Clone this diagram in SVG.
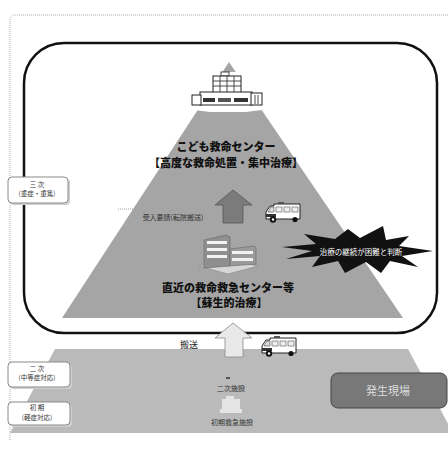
<svg xmlns="http://www.w3.org/2000/svg" xmlns:xlink="http://www.w3.org/1999/xlink" width="448" height="449" viewBox="0 0 448 449">
  <style>
    .jp { font-family: "Noto Sans CJK JP", "Noto Sans", sans-serif; }
    .title { font-size: 11px; font-weight: 900; fill: #111; text-anchor: middle; }
    .small { font-size: 7px; fill: #333; text-anchor: middle; }
    .lbl { font-size: 6.5px; fill: #333; text-anchor: middle; }
    .lblbox { fill: #fff; stroke: #8a8a8a; stroke-width: 1; }
    .lblshadow { fill: #cfcfcf; }
  </style>
  <defs>
    <!-- small ambulance, 36 x 21 -->
    <g id="ambulance">
      <path d="M1,16 L1,10 L5,4 L9,4 L9,2 L35,2 L35,17 L1,17 Z" fill="#fff" stroke="#222" stroke-width="1"/>
      <rect x="13" y="0" width="6" height="2" fill="#555"/>
      <path d="M3,10 L6,5 L9,5 L9,10 Z" fill="#ddd" stroke="#444" stroke-width="0.6"/>
      <rect x="11" y="5" width="6" height="5" fill="#eee" stroke="#555" stroke-width="0.6"/>
      <rect x="19" y="5" width="6" height="5" fill="#eee" stroke="#555" stroke-width="0.6"/>
      <rect x="27" y="5" width="6" height="5" fill="#eee" stroke="#555" stroke-width="0.6"/>
      <rect x="1" y="12" width="10" height="3" fill="#333"/>
      <circle cx="8" cy="17.5" r="3.2" fill="#111"/>
      <circle cx="8" cy="17.5" r="1.2" fill="#fff"/>
      <circle cx="30" cy="17.5" r="2.6" fill="#111"/>
    </g>
  </defs>

  <!-- outer dotted frame -->
  <path d="M10,440 L10,20 Q10,15 15,15 L448,15" fill="none" stroke="#aaa" stroke-width="1" stroke-dasharray="1 1"/>

  <!-- lower tier (secondary / primary) -->
  <g id="lower-tier">
    <polygon points="55,349 408,349 453,433 10,433" fill="#bababa"/>
  </g>

  <!-- tertiary pyramid -->
  <g id="pyramid">
    <polygon points="229,62 403,318 62,318" fill="#a5a5a5"/>
  </g>

  <!-- tertiary frame -->
  <g id="tertiary-frame">
    <rect x="24" y="43" width="413" height="290" rx="40" ry="40" fill="none" stroke="#111" stroke-width="2.5"/>
  </g>

  <!-- children's emergency center building -->
  <g id="kodomo-center">
    <polygon points="188,74 222,72 236,72 270,74 272,104 262,110 246,112 210,112 194,110 186,104" fill="#fff"/>
    <rect x="221" y="72" width="8" height="4" fill="#fff" stroke="#222" stroke-width="0.8"/>
    <rect x="213" y="76" width="28" height="17" fill="#fff" stroke="#222" stroke-width="1"/>
    <g stroke="#222" stroke-width="0.8">
      <line x1="213" y1="81" x2="241" y2="81"/>
      <line x1="213" y1="86" x2="241" y2="86"/>
      <line x1="220" y1="76" x2="220" y2="93"/>
      <line x1="227" y1="76" x2="227" y2="93"/>
      <line x1="234" y1="76" x2="234" y2="93"/>
    </g>
    <rect x="200" y="92" width="52" height="13" fill="#fff" stroke="#222" stroke-width="1"/>
    <rect x="192" y="95" width="9" height="10" fill="#fff" stroke="#222" stroke-width="1"/>
    <rect x="251" y="93" width="11" height="12" fill="#fff" stroke="#222" stroke-width="1"/>
    <rect x="203" y="98" width="12" height="4" fill="#333"/>
    <rect x="218" y="98" width="13" height="4" fill="#555"/>
    <rect x="234" y="98" width="14" height="4" fill="#333"/>
    <line x1="255" y1="95" x2="255" y2="104" stroke="#222" stroke-width="0.8"/>
    <line x1="258" y1="95" x2="258" y2="104" stroke="#222" stroke-width="0.8"/>
    <text class="jp title" x="226" y="151">こども救命センター</text>
    <text class="jp title" x="226" y="167">【高度な救命処置・集中治療】</text>
  </g>

  <!-- nearest emergency center building -->
  <g id="nearest-center">
    <polygon points="199,266 230,260 258,266 228,274" fill="#d6d6d6" stroke="#888" stroke-width="0.6"/>
    <polygon points="204,240 226,235 230,237 230,266 204,268" fill="#8f8f8f" stroke="#666" stroke-width="0.6"/>
    <polygon points="230,249 254,246 256,248 256,264 230,266" fill="#9a9a9a" stroke="#666" stroke-width="0.6"/>
    <g fill="#f2f2f2">
      <rect x="207" y="241" width="20" height="3"/>
      <rect x="207" y="248" width="20" height="3"/>
      <rect x="207" y="255" width="20" height="3"/>
      <rect x="232" y="251" width="21" height="3"/>
      <rect x="232" y="258" width="21" height="3"/>
    </g>
    <text class="jp title" x="228" y="292">直近の救命救急センター等</text>
    <text class="jp title" x="229" y="307">【蘇生的治療】</text>
  </g>

  <!-- treatment judgement burst -->
  <g id="judgement">
    <polygon points="282,247 316,244 304,234 335,239 348,229 360,238 383,226 386,240 409,236 399,246 433,251 402,256 418,267 390,261 381,273 366,262 345,273 338,261 312,267 320,256 286,259 312,251" fill="#111"/>
    <text class="jp" x="361" y="255" font-size="7.5" fill="#fff" text-anchor="middle">治療の継続が困難と判断</text>
  </g>

  <!-- secondary / primary facilities -->
  <g id="facilities">
    <rect x="226" y="377" width="4" height="2" fill="#555"/>
    <text class="jp small" x="231" y="391">二次施設</text>
    <g fill="#ececec" opacity="0.85">
      <rect x="222" y="399" width="18" height="10"/>
      <rect x="226" y="396" width="8" height="3"/>
      <rect x="220" y="409" width="22" height="4"/>
    </g>
    <text class="jp small" x="232" y="425">初期救急施設</text>
  </g>

  <!-- incident site -->
  <g id="incident-site">
    <rect x="331" y="373" width="116" height="35" rx="7" ry="7" fill="#787878" stroke="#444" stroke-width="1"/>
    <text class="jp" x="388" y="395" font-size="11" fill="#dedede" text-anchor="middle">発生現場</text>
  </g>

  <!-- level labels -->
  <g id="label-tertiary">
    <rect class="lblshadow" x="10" y="179" width="60" height="26" rx="4"/>
    <rect class="lblbox" x="8" y="177" width="60" height="26" rx="4"/>
    <text class="jp lbl" x="37" y="187">三 次</text>
    <text class="jp lbl" x="37" y="196">(重症・重篤)</text>
  </g>
  <g id="label-secondary">
    <rect class="lblshadow" x="10" y="364" width="62" height="25" rx="4"/>
    <rect class="lblbox" x="8" y="362" width="62" height="25" rx="4"/>
    <text class="jp lbl" x="37" y="371">二 次</text>
    <text class="jp lbl" x="37" y="380">(中等症対応)</text>
  </g>
  <g id="label-primary">
    <rect class="lblshadow" x="10" y="404" width="62" height="23" rx="4"/>
    <rect class="lblbox" x="8" y="402" width="62" height="23" rx="4"/>
    <text class="jp lbl" x="37" y="410">初 期</text>
    <text class="jp lbl" x="37" y="420">(軽症対応)</text>
  </g>

  <!-- connectors -->
  <g id="connectors">
    <!-- transfer request to children's center -->
    <line x1="118" y1="209" x2="134" y2="209" stroke="#888" stroke-width="0.8" stroke-dasharray="1 1"/>
    <text class="jp small" x="173" y="220">受入要請(転院搬送)</text>
    <polygon points="233,190 252,205 243,205 243,223 223,223 223,205 215,205" fill="#7b7b7b" stroke="#555" stroke-width="0.8"/>
    <use xlink:href="#ambulance" href="#ambulance" x="265" y="202"/>
    <!-- transport from lower tier -->
    <polygon points="233,323 252,338 243,338 243,357 225,357 225,338 215,338" fill="#e9e9e9" stroke="#8a8a8a" stroke-width="0.8"/>
    <text class="jp" x="189" y="348" font-size="9" fill="#222" text-anchor="middle">搬送</text>
    <use xlink:href="#ambulance" href="#ambulance" x="261" y="336"/>
  </g>
</svg>
